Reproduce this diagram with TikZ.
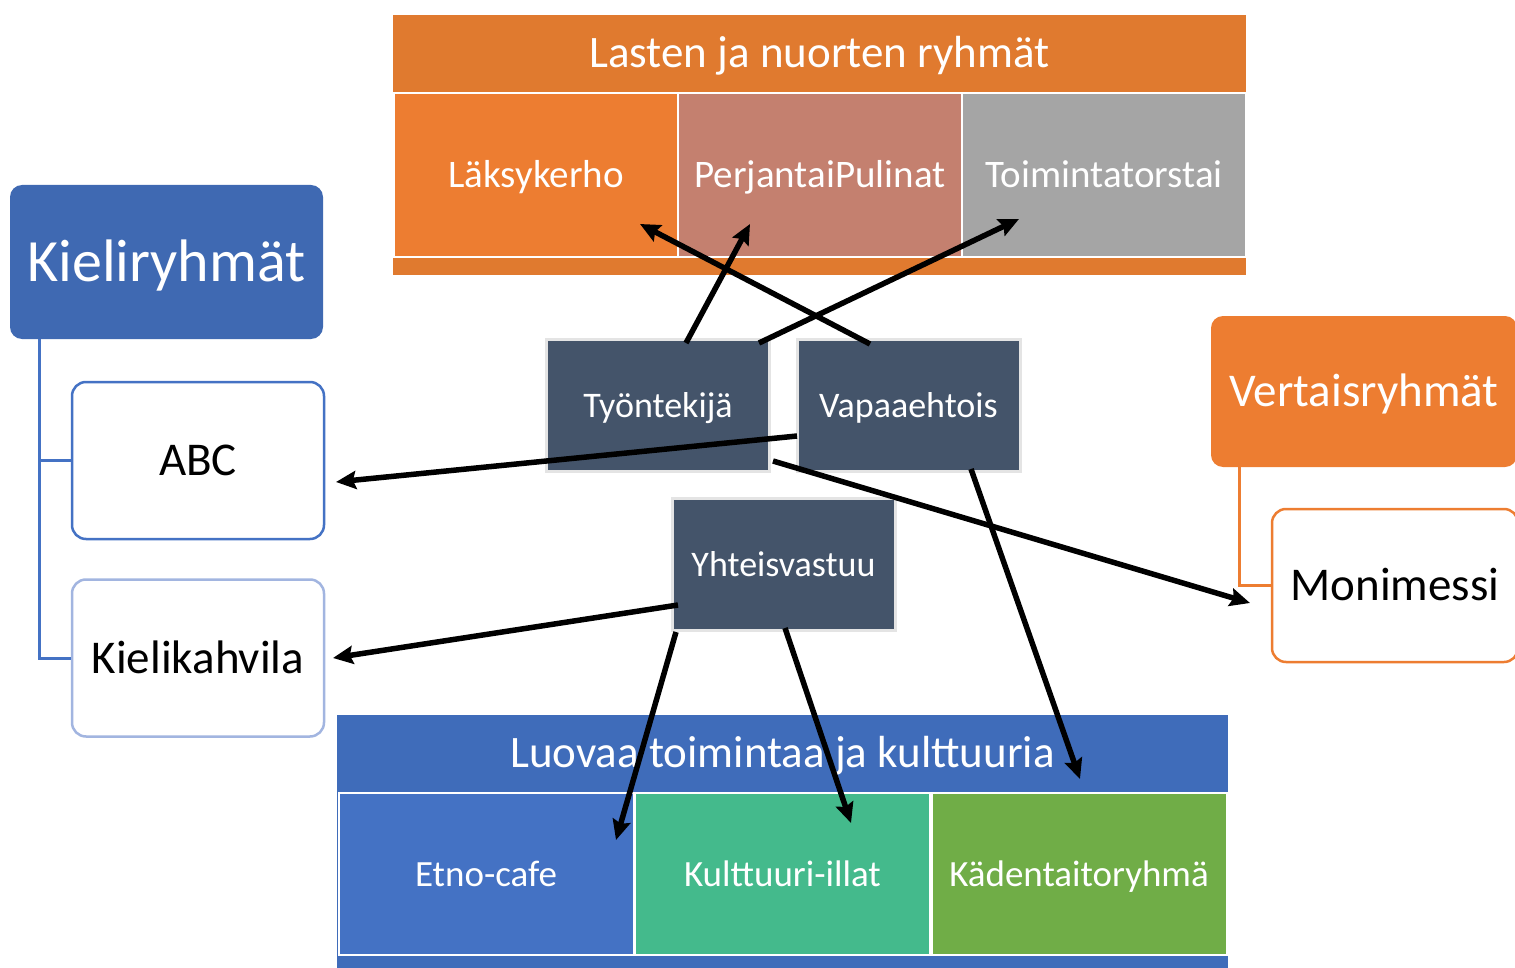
\documentclass[tikz,border=0pt]{standalone}
\usepackage{fontspec}
\setmainfont{Carlito}
\usetikzlibrary{arrows.meta,calc}

\definecolor{lastenband}{HTML}{E07A2F}
\definecolor{orangecell}{HTML}{ED7D31}
\definecolor{rosecell}{HTML}{C4806F}
\definecolor{greycell}{HTML}{A5A5A5}
\definecolor{kieliblue}{HTML}{3F69B2}
\definecolor{blueline}{HTML}{4472C4}
\definecolor{paleblue}{HTML}{A2B5E0}
\definecolor{slate}{HTML}{44546A}
\definecolor{slateedge}{HTML}{E4E4E4}
\definecolor{luovaband}{HTML}{3F6CBA}
\definecolor{greencell}{HTML}{44BA8C}
\definecolor{olivecell}{HTML}{70AD47}

\begin{document}
\begin{tikzpicture}[x=1pt,y=-1pt,
  capmid/.style={text height=#1, text depth=0pt},
  band/.style={fill=#1, inner sep=0pt},
  headtxt/.style={capmid=29pt, text=white, inner sep=0pt, font=\fontsize{45}{54}\selectfont},
  cell/.style={fill=#1, draw=white, line width=2pt, inner sep=0pt, capmid=25pt,
    minimum width=284pt, minimum height=164pt, text=white,
    font=\fontsize{39}{47}\selectfont},
  lowcell/.style={cell=#1, minimum width=295pt, minimum height=162pt, capmid=24pt,
    font=\fontsize{37}{44}\selectfont},
  groupbox/.style={fill=#1, rounded corners=12pt, inner sep=0pt, text=white},
  leafbox/.style={draw=#1, fill=white, line width=2.5pt, rounded corners=14pt,
    inner sep=0pt, minimum width=252pt, minimum height=157pt, capmid=30pt,
    font=\fontsize{47}{56}\selectfont},
  role/.style={fill=slate, draw=slateedge, line width=3pt, inner sep=0pt,
    minimum width=223pt, minimum height=132pt, text=white, capmid=23pt,
    font=\fontsize{36}{43}\selectfont},
  tree/.style={draw=#1, line width=3pt},
  conn/.style={line width=5.5pt, -{Stealth[length=20pt,width=18pt,inset=3pt]}}]
  \useasboundingbox (0,0) rectangle (1515,968);
  \clip (0,0) rectangle (1515,968);
  % top group
  \node[band=lastenband, minimum width=853pt, minimum height=260pt] (lastenbg) at (819.5,145) {};
  \node[headtxt] (lasten) at (819.5,53) {Lasten ja nuorten ryhmät};
  \node[cell=orangecell] (laks) at (536,175) {Läksykerho};
  \node[cell=rosecell]   (perj) at (820,175) {PerjantaiPulinat};
  \node[cell=greycell]   (toim) at (1104,175) {Toimintatorstai};
  % bottom group
  \node[band=luovaband, minimum width=891pt, minimum height=260pt] (luovabg) at (782.5,845) {};
  \node[headtxt] (luova) at (782.5,753) {Luovaa toimintaa ja kulttuuria};
  \node[lowcell=blueline]  (etno) at (486,874) {Etno-cafe};
  \node[lowcell=greencell] (kult) at (782.5,874) {Kulttuuri-illat};
  \node[lowcell=olivecell] (kaed) at (1079,874) {Kädentaitoryhmä};
  % left: language groups
  \node[groupbox=kieliblue, minimum width=313pt, minimum height=154pt, capmid=38.6pt,
    font=\fontsize{60}{72}\selectfont] (kieli) at (166.5,262) {Kieliryhmät};
  \node[leafbox=blueline] (abc)  at (198,460.5) {ABC};
  \node[leafbox=paleblue] (kiel) at (198,658) {Kielikahvila};
  \draw[tree=blueline] ($(kieli.south west)+(30,0)$) |- (abc.west);
  \draw[tree=blueline] ($(kieli.south west)+(30,0)$) |- (kiel.west);
  % right: peer groups
  \node[groupbox=orangecell, minimum width=306pt, minimum height=151pt, capmid=30pt,
    font=\fontsize{47}{56}\selectfont] (vert) at (1364,391.5) {Vertaisryhmät};
  \node[leafbox=orangecell, minimum width=246pt, minimum height=153pt] (moni) at (1395,585.5) {Monimessi};
  \draw[tree=orangecell] ($(vert.south west)+(29,0)$) |- (moni.west);
  % middle
  \node[role] (tyo)  at (658,405.5) {Työntekijä};
  \node[role] (vapa) at (908.5,405.5) {Vapaaehtois};
  \node[role] (yht)  at (783.5,564.5) {Yhteisvastuu};
  % arrows
  \draw[conn] ($(vapa)+(-38.5,-61.5)$) -- ($(laks)+(104,49)$);
  \draw[conn] ($(tyo)+(28,-62.5)$) -- ($(perj)+(-70,49)$);
  \draw[conn] ($(tyo)+(101,-62.5)$) -- ($(toim)+(-85,44)$);
  \draw[conn] ($(vapa)+(-111.5,30.5)$) -- ($(abc)+(138,21.5)$);
  \draw[conn] ($(tyo)+(115,55.5)$) -- ($(moni)+(-145,17.5)$);
  \draw[conn] ($(vapa)+(62.5,63.5)$) -- ($(kaed)+(1,-95)$);
  \draw[conn] ($(yht)+(-105.5,40.5)$) -- ($(kiel)+(135,0)$);
  \draw[conn] ($(yht)+(-107.5,67.5)$) -- ($(etno)+(130,-34)$);
  \draw[conn] ($(yht)+(1.5,63.5)$) -- ($(kult)+(68.5,-51)$);
\end{tikzpicture}
\end{document}
